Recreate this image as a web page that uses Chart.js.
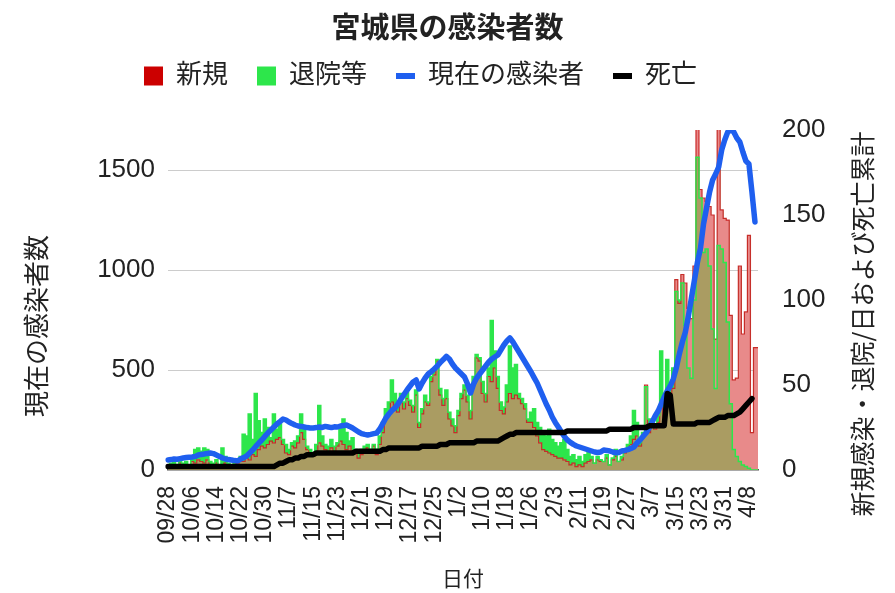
<!DOCTYPE html>
<html>
<head>
<meta charset="utf-8">
<script src="https://cdn.jsdelivr.net/npm/chart.js@4.4.1/dist/chart.umd.min.js"></script>
<style>
html,body{margin:0;padding:0;background:#fff;}
#wrap{width:895px;height:593px;}
</style>
</head>
<body>
<div id="wrap"><canvas id="c" width="895" height="593"></canvas></div>
<script>
const TITLE = '宮城県の感染者数';
const SERIES_NAMES = ['新規', '退院等', '現在の感染者', '死亡'];
const Y_LEFT_TITLE = '現在の感染者数';
const Y_RIGHT_TITLE = '新規感染・退院/日および死亡累計';
const X_TITLE = '日付';

const DATES = [
  '09/28','09/29','09/30',
  '10/01','10/02','10/03','10/04','10/05','10/06','10/07','10/08','10/09','10/10',
  '10/11','10/12','10/13','10/14','10/15','10/16','10/17','10/18','10/19','10/20',
  '10/21','10/22','10/23','10/24','10/25','10/26','10/27','10/28','10/29','10/30','10/31',
  '11/1','11/2','11/3','11/4','11/5','11/6','11/7','11/8','11/9','11/10',
  '11/11','11/12','11/13','11/14','11/15','11/16','11/17','11/18','11/19','11/20',
  '11/21','11/22','11/23','11/24','11/25','11/26','11/27','11/28','11/29','11/30',
  '12/1','12/2','12/3','12/4','12/5','12/6','12/7','12/8','12/9','12/10',
  '12/11','12/12','12/13','12/14','12/15','12/16','12/17','12/18','12/19','12/20',
  '12/21','12/22','12/23','12/24','12/25','12/26','12/27','12/28','12/29','12/30','12/31',
  '1/1','1/2','1/3','1/4','1/5','1/6','1/7','1/8','1/9','1/10',
  '1/11','1/12','1/13','1/14','1/15','1/16','1/17','1/18','1/19','1/20',
  '1/21','1/22','1/23','1/24','1/25','1/26','1/27','1/28','1/29','1/30','1/31',
  '2/1','2/2','2/3','2/4','2/5','2/6','2/7','2/8','2/9','2/10',
  '2/11','2/12','2/13','2/14','2/15','2/16','2/17','2/18','2/19','2/20',
  '2/21','2/22','2/23','2/24','2/25','2/26','2/27','2/28',
  '3/1','3/2','3/3','3/4','3/5','3/6','3/7','3/8','3/9','3/10',
  '3/11','3/12','3/13','3/14','3/15','3/16','3/17','3/18','3/19','3/20',
  '3/21','3/22','3/23','3/24','3/25','3/26','3/27','3/28','3/29','3/30','3/31',
  '4/1','4/2','4/3','4/4','4/5','4/6','4/7','4/8','4/9','4/10','4/11'
];

const TICK_LABELS = ['09/28','10/06','10/14','10/22','10/30','11/7','11/15','11/23','12/1','12/9',
  '12/17','12/25','1/2','1/10','1/18','1/26','2/3','2/11','2/19','2/27','3/7','3/15','3/23','3/31','4/8'];

const Y_LEFT_TICKS = [0, 500, 1000, 1500];
const Y_RIGHT_TICKS = [0, 50, 100, 150, 200];

// 新規 (daily new cases, right axis)
const NEW_CASES = [
  1, 3, 2, 3, 4, 2, 3, 2, 5, 4,
  6, 5, 4, 6, 3, 2, 4, 1, 3, 4,
  2, 1, 3, 4, 5, 5, 7, 6, 9, 8,
  12, 14, 13, 15, 17, 16, 18, 19, 15, 10,
  9, 14, 13, 16, 22, 18, 12, 10, 8, 11,
  16, 14, 12, 11, 13, 11, 14, 17, 15, 12,
  14, 11, 10, 7, 9, 10, 13, 11, 14, 9,
  15, 22, 30, 33, 40, 36, 34, 40, 36, 42,
  38, 34, 44, 25, 33, 40, 38, 52, 56, 64,
  44, 38, 42, 30, 26, 22, 32, 42, 47, 40,
  30, 50, 66, 64, 45, 40, 55, 52, 60, 48,
  35, 33, 40, 45, 42, 44, 42, 39, 36, 28,
  28, 25, 20, 16, 12, 11, 10, 9, 8, 7,
  7, 6, 5, 3, 4, 2, 3, 2, 4, 5,
  6, 4, 6, 5, 5, 7, 3, 6, 8, 5,
  6, 10, 12, 15, 18, 20, 14, 20, 50, 22,
  26, 24, 28, 38, 30, 42, 40, 48, 112, 98,
  115, 110, 95, 89, 120, 210, 165, 160, 158, 155,
  150, 77, 210, 153, 148, 147, 91, 53, 54, 120,
  80, 93, 138, 22, 72, 72
];

// 退院等 (daily discharged, right axis)
const RECOVERED = [
  2, 4, 5, 3, 6, 4, 5, 3, 7, 12,
  13, 11, 13, 12, 5, 4, 6, 3, 13, 8,
  4, 3, 6, 5, 8, 21, 20, 33, 18, 45,
  29, 22, 30, 25, 19, 33, 24, 27, 18, 15,
  12, 16, 17, 20, 33, 26, 14, 12, 10, 15,
  38, 20, 15, 14, 18, 14, 16, 26, 30, 22,
  17, 19, 12, 10, 12, 14, 15, 12, 15, 12,
  20, 28, 36, 40, 53, 45, 38, 45, 40, 46,
  41, 38, 47, 28, 36, 44, 40, 55, 60, 65,
  48, 42, 47, 34, 30, 26, 35, 45, 50, 44,
  35, 55, 68, 66, 52, 45, 60, 88, 70, 55,
  40, 37, 50, 73, 60, 62, 45, 42, 39, 30,
  34, 36, 28, 25, 22, 20, 24, 18, 16, 14,
  16, 18, 12, 8, 9, 6, 8, 5, 9, 12,
  8, 4, 8, 6, 5, 9, 3, 7, 12, 5,
  8, 12, 15, 20, 35, 28, 16, 22, 49, 30,
  30, 26, 32, 70, 45, 65, 50, 60, 105, 100,
  110, 85, 60, 54, 100, 184, 160, 128, 130, 120,
  83, 48, 132, 130, 122, 87, 39, 12, 8, 5,
  3, 2, 1, 0, 0, 0
];

// 現在の感染者 (current infected, left axis)
const ACTIVE = [
  50, 52, 55, 54, 57, 60, 62, 64, 65, 68,
  75, 78, 80, 83, 85, 82, 75, 68, 60, 55,
  52, 50, 47, 45, 55, 62, 70, 85, 100, 118,
  135, 150, 168, 185, 200, 215, 230, 242, 255, 250,
  240, 232, 225, 220, 218, 215, 212, 210, 210, 212,
  215, 213, 218, 215, 212, 216, 215, 220, 222, 225,
  218, 210, 200, 190, 182, 178, 175, 178, 182, 185,
  205, 232, 260, 280, 298, 310, 330, 355, 378, 400,
  420, 440, 450, 405, 435, 460, 480, 492, 505, 520,
  538, 552, 568, 555, 530, 510, 495, 480, 465, 430,
  385, 430, 460, 480, 500, 520, 540, 555, 565, 575,
  600, 625, 645, 660, 640, 615, 590, 565, 540, 515,
  490, 462, 435, 400, 365, 330, 300, 265, 238, 215,
  190, 168, 150, 138, 128, 120, 115, 110, 105, 100,
  95, 90, 88, 90, 100, 98, 95, 90, 86, 88,
  95, 98, 102, 108, 115, 135, 150, 168, 185, 210,
  240, 270, 295, 330, 365, 395, 420, 455, 510, 580,
  640, 690, 770, 860, 950, 1040, 1110, 1230, 1310, 1390,
  1450, 1480, 1515, 1600, 1650, 1690, 1700, 1690, 1660, 1640,
  1590, 1545, 1530, 1390, 1240, null
];

// 死亡 (cumulative deaths, right axis)
const DEATHS = [
  2, 2, 2, 2, 2, 2, 2, 2, 2, 2,
  2, 2, 2, 2, 2, 2, 2, 2, 2, 2,
  2, 2, 2, 2, 2, 2, 2, 2, 2, 2,
  2, 2, 2, 2, 2, 2, 3, 4, 4, 5,
  6, 6, 7, 7, 8, 8, 9, 9, 9, 10,
  10, 10, 10, 10, 10, 10, 10, 10, 10, 10,
  10, 10, 11, 11, 11, 11, 11, 11, 11, 11,
  11, 12, 12, 13, 13, 13, 13, 13, 13, 13,
  13, 13, 13, 13, 14, 14, 14, 14, 14, 14,
  15, 15, 15, 16, 16, 16, 16, 16, 16, 16,
  16, 16, 17, 17, 17, 17, 17, 17, 17, 17,
  18, 19, 20, 21, 21, 22, 22, 22, 22, 22,
  22, 22, 22, 22, 22, 22, 22, 22, 22, 22,
  22, 22, 23, 23, 23, 23, 23, 23, 23, 23,
  23, 23, 23, 23, 23, 23, 24, 24, 24, 24,
  24, 24, 24, 24, 25, 25, 25, 25, 25, 26,
  26, 26, 26, 26, 26, 45, 44, 27, 27, 27,
  27, 27, 27, 27, 27, 28, 28, 28, 28, 28,
  29, 30, 31, 31, 31, 32, 32, 32, 33, 34,
  36, 38, 40, 42, null, null
];

const FONT = "'Liberation Sans', 'Noto Sans CJK JP', sans-serif";
const TEXT_COLOR = '#222222';

const layoutTweaks = {
  id: 'layoutTweaks',
  afterInit(chart) {
    const lg = chart.legend;
    const fit = lg.fit;
    lg.fit = function () { fit.call(this); this.height += 21; };
  },
  afterLayout(chart) {
    const lg = chart.legend;
    lg.left -= 27; lg.right -= 27; lg.top -= 10; lg.bottom -= 10;
  }
};

const axisTitles = {
  id: 'axisTitles',
  afterDraw(chart) {
    const ctx = chart.ctx;
    ctx.save();
    ctx.fillStyle = TEXT_COLOR;
    ctx.textAlign = 'center';
    ctx.textBaseline = 'middle';
    ctx.font = "26px 'Noto Sans CJK JP', sans-serif";
    ctx.translate(36, 326);
    ctx.rotate(-Math.PI / 2);
    ctx.fillText(Y_LEFT_TITLE, 0, 0);
    ctx.restore();
    ctx.save();
    ctx.fillStyle = TEXT_COLOR;
    ctx.textAlign = 'center';
    ctx.textBaseline = 'middle';
    ctx.font = "25px 'Noto Sans CJK JP', sans-serif";
    ctx.translate(862, 324);
    ctx.rotate(-Math.PI / 2);
    ctx.fillText(Y_RIGHT_TITLE, 0, 0);
    ctx.restore();
  }
};

// legend marker styles, by dataset index
const LEGEND_STYLES = [
  {pointStyle: 'rect', fillStyle: '#cc0000', strokeStyle: '#cc0000', lineWidth: 0},
  {pointStyle: 'rect', fillStyle: '#2de64b', strokeStyle: '#2de64b', lineWidth: 0},
  {pointStyle: 'line', fillStyle: '#1f5fef', strokeStyle: '#1f5fef', lineWidth: 6},
  {pointStyle: 'line', fillStyle: '#000000', strokeStyle: '#000000', lineWidth: 6}
];

new Chart(document.getElementById('c'), {
  type: 'line',
  data: {
    labels: DATES,
    datasets: [
      {
        label: SERIES_NAMES[0], data: NEW_CASES, yAxisID: 'y2', stepped: 'middle',
        borderColor: 'rgba(200,30,30,0.9)', borderWidth: 1.2,
        backgroundColor: 'rgb(170,156,98)', fill: 'origin', pointRadius: 0, order: 4
      },
      {
        label: SERIES_NAMES[1], data: RECOVERED, yAxisID: 'y2', stepped: 'middle',
        borderColor: 'rgb(45,230,75)', borderWidth: 1.5,
        backgroundColor: 'rgb(45,230,75)',
        fill: {target: 0, above: 'rgb(45,230,75)', below: 'rgb(232,138,138)'},
        pointRadius: 0, order: 3
      },
      {
        label: SERIES_NAMES[2], data: ACTIVE, yAxisID: 'y',
        borderColor: '#1f5fef', borderWidth: 5.5, borderJoinStyle: 'round', borderCapStyle: 'round',
        pointRadius: 0, fill: false, tension: 0, order: 2
      },
      {
        label: SERIES_NAMES[3], data: DEATHS, yAxisID: 'y2',
        borderColor: '#000000', borderWidth: 5.5, borderJoinStyle: 'round', borderCapStyle: 'round',
        pointRadius: 0, fill: false, tension: 0, order: 1
      }
    ]
  },
  options: {
    responsive: false,
    animation: false,
    devicePixelRatio: 1,
    layout: {padding: 0},
    plugins: {
      filler: {drawTime: 'beforeDatasetsDraw'},
      tooltip: {enabled: false},
      title: {
        display: true, text: TITLE, color: TEXT_COLOR,
        font: {family: FONT, size: 29, weight: 'bold', lineHeight: 1},
        padding: {top: 15, bottom: 0}
      },
      legend: {
        display: true, position: 'top',
        labels: {
          usePointStyle: true, pointStyleWidth: 19, boxHeight: 19, padding: 29,
          color: TEXT_COLOR, font: {family: FONT, size: 26},
          sort: (a, b) => a.datasetIndex - b.datasetIndex,
          generateLabels(chart) {
            const items = Chart.defaults.plugins.legend.labels.generateLabels(chart);
            return items.map((it) => Object.assign(it, LEGEND_STYLES[it.datasetIndex]));
          }
        }
      }
    },
    scales: {
      x: {
        type: 'category', offset: false,
        grid: {display: false},
        border: {display: true, color: '#555555', width: 1.5},
        ticks: {autoSkip: false, maxRotation: 90, minRotation: 90, padding: 8,
                color: TEXT_COLOR, font: {family: FONT, size: 23}},
        afterBuildTicks: (s) => { s.ticks = s.ticks.filter(t => TICK_LABELS.includes(DATES[t.value])); },
        afterFit: (s) => { s.height = 123; },
        title: {display: true, text: X_TITLE, color: TEXT_COLOR,
                font: {family: FONT, size: 21}, padding: {top: 0, bottom: 0}}
      },
      y: {
        position: 'left', min: 0, max: 1700,
        ticks: {padding: 13, color: TEXT_COLOR, font: {family: FONT, size: 26},
                callback: (v) => String(v)},
        afterBuildTicks: (s) => { s.ticks = Y_LEFT_TICKS.map(v => ({value: v})); },
        grid: {drawTicks: false, lineWidth: 1,
               color: (c) => (c.tick && c.tick.value === 0) ? 'rgba(0,0,0,0)' : '#cccccc'},
        border: {display: false},
        afterFit: (s) => { s.width = 168; }
      },
      y2: {
        position: 'right', min: 0, max: 200,
        ticks: {padding: 24, color: TEXT_COLOR, font: {family: FONT, size: 26},
                callback: (v) => String(v)},
        afterBuildTicks: (s) => { s.ticks = Y_RIGHT_TICKS.map(v => ({value: v})); },
        grid: {display: false, drawTicks: false},
        border: {display: false},
        afterFit: (s) => { s.width = 137; }
      }
    }
  },
  plugins: [layoutTweaks, axisTitles]
});
</script>
</body>
</html>
